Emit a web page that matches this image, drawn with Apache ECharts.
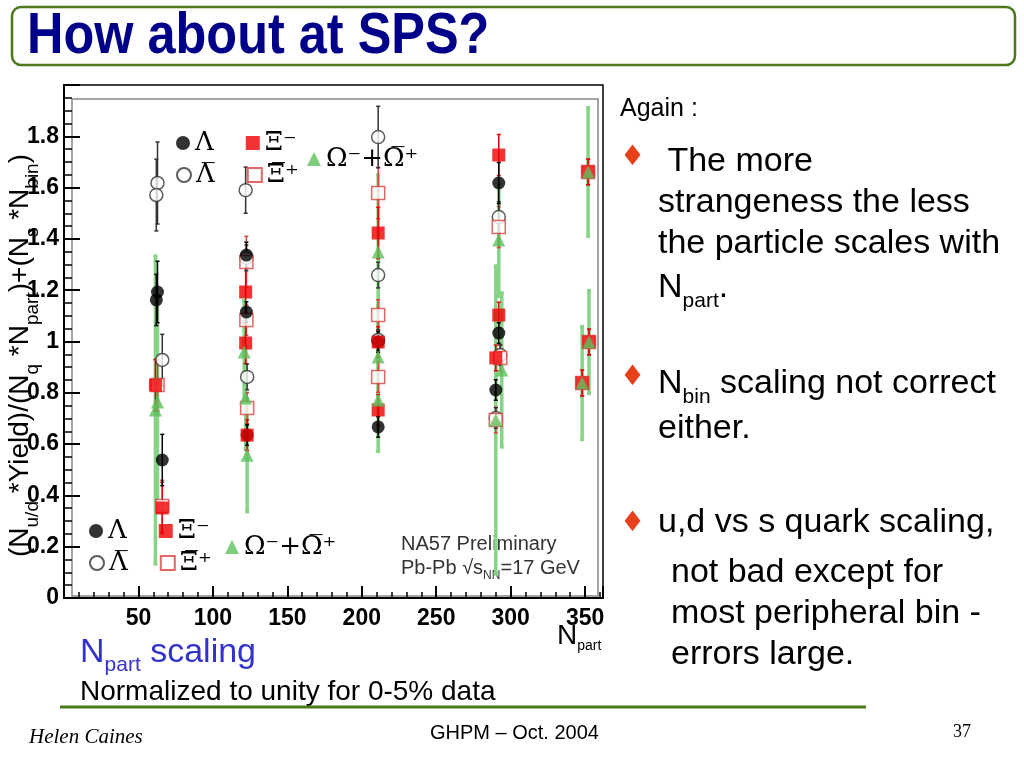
<!DOCTYPE html>
<html>
<head>
<meta charset="utf-8">
<script src="https://cdn.jsdelivr.net/npm/echarts@6/dist/echarts.min.js"></script>
<style>html,body{margin:0;padding:0;background:#fff;}#c{width:1024px;height:768px;}</style>
</head>
<body>
<div id="c"></div>
<script>
// ---- data: [N_part, normalized yield, error] ----
var lambda = [[62.8,1.193,0.12],[62,1.162,0.10],[66,0.538,0.10],[122.5,1.337,0.05],[122.5,1.115,0.04],[123,0.635,0.04],[211,0.998,0.04],[211,0.667,0.04],[292,1.618,0.08],[292,1.033,0.04],[290,0.811,0.04]];
var antiLambda = [[62.8,1.618,0.16],[62,1.571,0.14],[66,0.928,0.10],[122,1.59,0.09],[122.5,1.326,0.05],[123,0.862,0.05],[211,1.797,0.12],[211,1.259,0.05],[211,1.006,0.04],[292,1.485,0.06],[293,0.947,0.04],[290,0.702,0.04]];
var xiMinus = [[61.4,0.83,0.10],[66,0.351,0.10],[122,1.193,0.12],[122,0.994,0.08],[123,0.635,0.06],[211,1.423,0.10],[211,0.998,0.06],[211,0.733,0.06],[292,1.727,0.08],[292,1.103,0.05],[290,0.936,0.05],[352,1.661,0.05],[352.6,0.998,0.05],[348,0.838,0.05]];
var antiXiPlus = [[62.8,0.83,0.10],[66,0.359,0.10],[122.5,1.31,0.10],[122.5,1.084,0.06],[123,0.741,0.06],[211,1.579,0.10],[211,1.103,0.06],[211,0.862,0.06],[292,1.446,0.08],[293,0.936,0.05],[290,0.694,0.05],[352,1.661,0.05],[352.6,0.998,0.05],[348,0.838,0.05]];
var omega = [[61.4,0.733,0.60],[62.8,0.764,0.40],[121,0.959,0.20],[122,0.78,0.20],[123,0.557,0.22],[211,1.349,0.30],[211,0.94,0.20],[211,0.772,0.20],[292,1.396,0.22],[294,0.889,0.30],[290,0.694,0.60],[352,1.661,0.25],[352.6,0.998,0.20],[348,0.838,0.22]];
var seriesNames = ['Λ', 'Λ\u0305', 'Ξ⁻', 'Ξ\u0305⁺', 'Ω⁻+Ω\u0305⁺'];
var xTicks = [50, 100, 150, 200, 250, 300, 350];

var chart = echarts.init(document.getElementById('c'));

function errRender(color, width) {
  return function (params, api) {
    var x = api.value(0), y = api.value(1), e = api.value(2);
    var lo = api.coord([x, y - e]), hi = api.coord([x, y + e]);
    var st = {stroke: color, lineWidth: width};
    return {type: 'group', children: [
      {type: 'line', shape: {x1: lo[0], y1: lo[1], x2: hi[0], y2: hi[1]}, style: st},
      {type: 'line', shape: {x1: lo[0] - 2, y1: lo[1], x2: lo[0] + 2, y2: lo[1]}, style: st},
      {type: 'line', shape: {x1: hi[0] - 2, y1: hi[1], x2: hi[0] + 2, y2: hi[1]}, style: st}
    ]};
  };
}
function errSeries(data, color, width) {
  return {type: 'custom', data: data, renderItem: errRender(color, width), encode: {x: 0, y: 1}, z: 1, silent: true};
}
var legendText = {fontFamily: 'DejaVu Serif', fontSize: 26, color: '#000'};
function mkLegend(names, left, top, gap) {
  return {data: names, left: left, top: top, itemGap: gap, itemWidth: 14, itemHeight: 14, textStyle: legendText, selectedMode: false, padding: 0};
}
var sub = {fontSize: 19, verticalAlign: 'bottom', lineHeight: 44, fontFamily: 'Liberation Sans'};
var bsub = {fontSize: 21, verticalAlign: 'bottom', lineHeight: 48, fontFamily: 'Liberation Sans'};

var option = {
  backgroundColor: '#fff',
  animation: false,
  grid: {left: 64, right: 421, top: 85, bottom: 170, show: true, borderColor: '#000', borderWidth: 1.5, backgroundColor: 'transparent', outerBoundsMode: 'none', containLabel: false},
  xAxis: {
    type: 'value', min: 0, max: 362, interval: 50,
    axisLine: {lineStyle: {color: '#000', width: 2}},
    axisTick: {inside: true, length: 12, lineStyle: {color: '#000', width: 2}},
    minorTick: {show: true, splitNumber: 5, length: 6, lineStyle: {color: '#000', width: 1.5}},
    splitLine: {show: false},
    axisLabel: {fontFamily: 'Liberation Sans', fontWeight: 'bold', fontSize: 23, color: '#000', margin: 9,
      formatter: function (v) { return xTicks.indexOf(v) >= 0 ? String(v) : ''; }}
  },
  yAxis: {
    type: 'value', min: 0, max: 2, interval: 0.2,
    name: '(N{s|u/d} *Yield)/(N{s|q} *N{s|part})+(N{s|s} *N{s|bin})',
    nameLocation: 'middle', nameRotate: 90, nameGap: 22, nameMoveOverlap: false,
    nameTextStyle: {fontFamily: 'Liberation Sans', fontSize: 28, color: '#000', lineHeight: 44, padding: [0, 28, 0, 0], rich: {s: sub}},
    axisLine: {lineStyle: {color: '#000', width: 2}},
    axisTick: {inside: true, length: 16, lineStyle: {color: '#000', width: 2}},
    minorTick: {show: true, splitNumber: 4, length: 8, lineStyle: {color: '#000', width: 1.5}},
    splitLine: {show: false},
    axisLabel: {fontFamily: 'Liberation Sans', fontWeight: 'bold', fontSize: 23, color: '#000', margin: 5,
      formatter: function (v) { return v >= 1.99 ? '' : (Math.round(v * 10) / 10).toString(); }}
  },
  legend: [
    mkLegend([seriesNames[0], seriesNames[2]], 176, 130, 32),
    mkLegend([seriesNames[1], seriesNames[3]], 176, 162, 32),
    mkLegend([seriesNames[4]], 307, 146, 10),
    mkLegend([seriesNames[0], seriesNames[2]], 89, 518, 32),
    mkLegend([seriesNames[1], seriesNames[3]], 89, 550, 32),
    mkLegend([seriesNames[4]], 225, 534, 10)
  ],
  series: [
    errSeries(omega, '#86d486', 3.5),
    errSeries(antiXiPlus, '#d94040', 1.5),
    errSeries(xiMinus, '#e00000', 1.5),
    errSeries(antiLambda, '#333', 1.5),
    errSeries(lambda, '#000', 1.5),
    {name: seriesNames[4], type: 'scatter', data: omega, symbol: 'triangle', symbolSize: 13, itemStyle: {color: '#5cc05c'}, z: 6},
    {name: seriesNames[1], type: 'scatter', data: antiLambda, symbol: 'circle', symbolSize: 13, itemStyle: {color: '#fff', borderColor: '#333', borderWidth: 1.5}, z: 3},
    {name: seriesNames[3], type: 'scatter', data: antiXiPlus, symbol: 'rect', symbolSize: 13, itemStyle: {color: '#fff', borderColor: '#d94040', borderWidth: 1.5}, z: 3},
    {name: seriesNames[0], type: 'scatter', data: lambda, symbol: 'circle', symbolSize: 13, itemStyle: {color: '#000'}, z: 4},
    {name: seriesNames[2], type: 'scatter', data: xiMinus, symbol: 'rect', symbolSize: 13, itemStyle: {color: '#ee0000'}, z: 5}
  ],
  graphic: [
    {type: 'rect', shape: {x: 12, y: 7, width: 1003, height: 58, r: 9}, style: {fill: 'none', stroke: '#4a7a1c', lineWidth: 2.5}},
    {type: 'text', x: 27, y: 9, scaleX: 0.885, style: {text: 'How about at SPS?', font: 'bold 57px "Liberation Sans", Arial', fill: '#000088'}},
    {type: 'rect', shape: {x: 72, y: 99, width: 526, height: 497}, style: {fill: 'none', stroke: '#888', lineWidth: 1.5}, z: 0},
    {type: 'text', left: 401, top: 534, style: {text: 'NA57 Preliminary', font: '20px "Liberation Sans"', fill: '#333'}},
    {type: 'text', left: 401, top: 558, style: {text: 'Pb-Pb √s{s|NN}=17 GeV', font: '20px "Liberation Sans"', fill: '#333', rich: {s: {fontSize: 12, verticalAlign: 'bottom', lineHeight: 28}}}},
    {type: 'text', left: 557, top: 622, style: {text: 'N{s|part}', font: '28px "Liberation Sans"', fill: '#000', rich: {s: {fontSize: 14, verticalAlign: 'bottom', lineHeight: 34}}}},
    {type: 'text', left: 620, top: 97, style: {text: 'Again :', font: '25px "Liberation Sans"', fill: '#000'}},
    {type: 'text', left: 620, top: 144, style: {text: '♦', font: '28px "DejaVu Sans"', fill: '#e8401a'}},
    {type: 'text', left: 658, top: 141, style: {text: ' The more\nstrangeness the less\nthe particle scales with\nN{s|part}.', font: '34px "Liberation Sans"', fill: '#000', lineHeight: 41, rich: {s: bsub}}},
    {type: 'text', left: 620, top: 364, style: {text: '♦', font: '28px "DejaVu Sans"', fill: '#e8401a'}},
    {type: 'text', left: 658, top: 360, style: {text: 'N{s|bin} scaling not correct\neither.', font: '34px "Liberation Sans"', fill: '#000', lineHeight: 41, rich: {s: bsub}}},
    {type: 'text', left: 620, top: 510, style: {text: '♦', font: '28px "DejaVu Sans"', fill: '#e8401a'}},
    {type: 'text', left: 658, top: 506, style: {text: 'u,d vs s quark scaling,', font: '34px "Liberation Sans"', fill: '#000'}},
    {type: 'text', left: 671, top: 552, style: {text: 'not bad except for\nmost peripheral bin -\nerrors large.', font: '34px "Liberation Sans"', fill: '#000', lineHeight: 41}},
    {type: 'text', left: 80, top: 636, style: {text: 'N{s|part} scaling', font: '34px "Liberation Sans"', fill: '#3333cc', rich: {s: {fontSize: 21, verticalAlign: 'bottom', lineHeight: 46, fontFamily: 'Liberation Sans'}}}},
    {type: 'text', left: 80, top: 678, style: {text: 'Normalized to unity for 0-5% data', font: '28px "Liberation Sans"', fill: '#000'}},
    {type: 'line', shape: {x1: 60, y1: 707, x2: 866, y2: 707}, style: {stroke: '#4a7a1c', lineWidth: 3}},
    {type: 'text', left: 29, top: 727, style: {text: 'Helen Caines', font: 'italic 21px "Liberation Serif"', fill: '#000'}},
    {type: 'text', left: 430, top: 723, style: {text: 'GHPM – Oct. 2004', font: '20px "Liberation Sans"', fill: '#000'}},
    {type: 'text', left: 953, top: 723, style: {text: '37', font: '18px "Liberation Serif"', fill: '#000'}}
  ]
};
chart.setOption(option);
</script>
</body>
</html>
